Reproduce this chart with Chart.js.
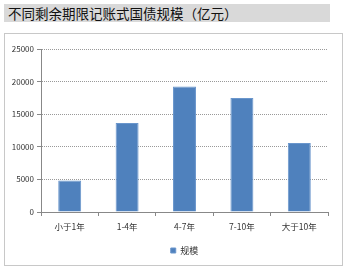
<!DOCTYPE html>
<html>
<head>
<meta charset="utf-8">
<script src="https://cdn.jsdelivr.net/npm/chart.js@4"></script>
<style>
body { margin: 0; background: #fff; width: 347px; height: 269px; position: relative; overflow: hidden; }
#title { position: absolute; left: 4px; top: 4px; width: 326px; height: 18px; background: #d9d9d9;
  font-family: "Noto Sans CJK SC", sans-serif; font-size: 13.5px; line-height: 18px; color: #111; padding-left: 4px; box-sizing: border-box; white-space: nowrap; }
#frame { position: absolute; left: 4px; top: 33px; width: 339px; height: 233px; border: 1px solid #c8c8c8; box-sizing: border-box; }
#wrap { position: absolute; left: 0; top: 0; width: 337px; height: 231px; }
</style>
</head>
<body>
<div id="title">不同剩余期限记账式国债规模（亿元）</div>
<div id="frame"><div id="wrap"><canvas id="c"></canvas></div></div>
<script>
var categories = ["小于1年", "1-4年", "4-7年", "7-10年", "大于10年"];
var seriesName = "规模";
var values = [4850, 13650, 19250, 17500, 10600];
var yTicks = [0, 5000, 10000, 15000, 20000, 25000];

var font = "'Noto Sans CJK SC', sans-serif";

// centre the legend under the plot area instead of the whole canvas
var legendUnderPlot = {
    id: 'legendUnderPlot',
    afterLayout: function (chart) {
        var lg = chart.legend;
        var shift = (chart.chartArea.left + chart.chartArea.right) / 2 - (lg.left + lg.right) / 2;
        lg.left += shift;
        lg.right += shift;
    }
};

var ctx = document.getElementById("c").getContext("2d");
var chart = new Chart(ctx, {
    type: 'bar',
    data: {
        labels: categories,
        datasets: [{
            label: seriesName,
            data: values,
            backgroundColor: "#4f81bd",
            borderColor: "#6a96cc",
            borderWidth: 1,
            categoryPercentage: 1,
            barPercentage: 0.4
        }]
    },
    options: {
        responsive: true,
        maintainAspectRatio: false,
        animation: false,
        layout: { padding: { left: 0, right: 14, top: 15, bottom: 0 } },
        plugins: {
            legend: {
                position: 'bottom',
                labels: {
                    boxWidth: 5, boxHeight: 5, padding: 7,
                    color: "#333", font: { family: font, size: 9 }
                }
            },
            tooltip: { enabled: false }
        },
        scales: {
            x: {
                grid: { drawOnChartArea: false, drawTicks: true, tickLength: 4, tickColor: "#888", offset: true },
                border: { color: "#888", width: 1 },
                ticks: { color: "#333", font: { family: font, size: 8.5 }, padding: 6, maxRotation: 0 },
                afterFit: function (s) { s.height = 27; }
            },
            y: {
                min: 0, max: 25000,
                afterBuildTicks: function (s) { s.ticks = yTicks.map(function (v) { return { value: v }; }); },
                grid: { color: "#999", tickLength: 4, tickColor: "#888", drawTicks: true },
                border: { color: "#888", width: 1, dash: [1, 1] },
                ticks: {
                    color: "#333", font: { family: font, size: 8 }, padding: 3,
                    callback: function (v) { return String(v); }
                },
                afterFit: function (s) { s.width = 36; }
            }
        }
    },
    plugins: [legendUnderPlot]
});
</script>
</body>
</html>
